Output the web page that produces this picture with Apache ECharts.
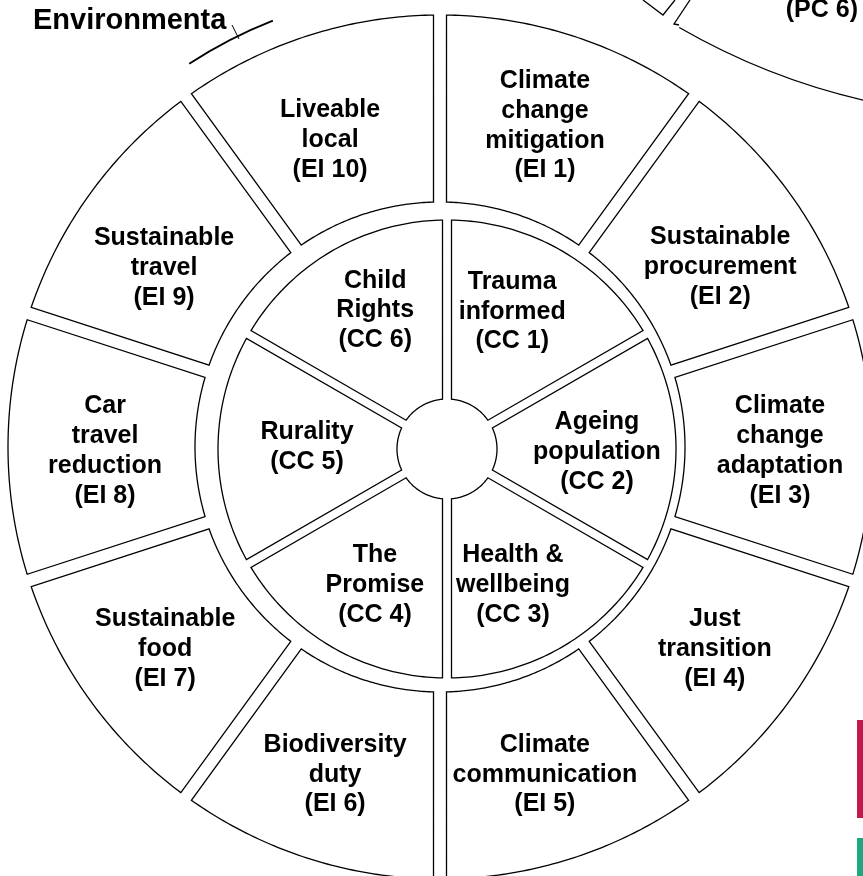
<!DOCTYPE html>
<html><head><meta charset="utf-8">
<script src="https://cdn.jsdelivr.net/npm/echarts@6/dist/echarts.min.js"></script>
<style>html,body{margin:0;padding:0;background:#fff}#chart{width:863px;height:876px}</style>
</head><body><div id="chart"></div>
<script>
// ---- data ----
const innerLabels = ['Trauma\ninformed\n(CC 1)', 'Ageing\npopulation\n(CC 2)', 'Health &\nwellbeing\n(CC 3)',
  'The\nPromise\n(CC 4)', 'Rurality\n(CC 5)', 'Child\nRights\n(CC 6)'];
const innerShares = [1, 1, 1, 1, 1, 1];
const outerLabels = ['Climate\nchange\nmitigation\n(EI 1)', 'Sustainable\nprocurement\n(EI 2)',
  'Climate\nchange\nadaptation\n(EI 3)', 'Just\ntransition\n(EI 4)', 'Climate\ncommunication\n(EI 5)',
  'Biodiversity\nduty\n(EI 6)', 'Sustainable\nfood\n(EI 7)', 'Car\ntravel\nreduction\n(EI 8)',
  'Sustainable\ntravel\n(EI 9)', 'Liveable\nlocal\n(EI 10)'];
const outerShares = [1, 1, 1, 1, 1, 1, 1, 1, 1, 1];
const titleText = 'Environmenta';
const neighbourLabel = '(PC 6)';

// ---- styling / layout (label placement as [angle offset from sector middle, radius]) ----
const FONT = 'Liberation Sans, Arial, Helvetica, sans-serif';
const innerLabelPlace = [[-4.6, 152], [1.1, 150], [4.1, 151], [-2.1, 154], [0.8, 140], [2.6, 156]];
const outerLabelPlace = [[0.1, 338], [3.3, 333], [0.7, 340], [0.3, 341], [0.25, 344], [-0.25, 344],
  [-0.3, 341], [-0.7, 335], [-3.0, 329], [-1.7, 326]];
const rings = [
  { labels: innerLabels, shares: innerShares, place: innerLabelPlace, rIn: 50, rOut: 229, gap: 9 },
  { labels: outerLabels, shares: outerShares, place: outerLabelPlace, rIn: 245, rOut: 432, gap: 13 }
];

function makeRenderer(ring) {
  const total = ring.shares.reduce((a, b) => a + b, 0);
  return function (params, api) {
    const i = params.dataIndex;
    let before = 0;
    for (let k = 0; k < i; k++) before += ring.shares[k];
    const a0 = before / total * 360;
    const a1 = (before + ring.shares[i]) / total * 360;
    const dOut = Math.asin(ring.gap / 2 / ring.rOut) * 180 / Math.PI;
    const dIn = Math.asin(ring.gap / 2 / ring.rIn) * 180 / Math.PI;
    const pts = [];
    const N = 60;
    for (let k = 0; k <= N; k++) {
      const a = (a0 + dOut) + ((a1 - dOut) - (a0 + dOut)) * k / N;
      pts.push(api.coord([ring.rOut, a]));
    }
    for (let k = 0; k <= N; k++) {
      const a = (a1 - dIn) - ((a1 - dIn) - (a0 + dIn)) * k / N;
      pts.push(api.coord([ring.rIn, a]));
    }
    const mid = (a0 + a1) / 2;
    const pl = ring.place[i];
    const c = api.coord([pl[1], mid + pl[0]]);
    return {
      type: 'group',
      children: [
        { type: 'polygon', shape: { points: pts },
          style: { fill: '#fff', stroke: '#000', lineWidth: 1.3 } },
        { type: 'text', x: c[0], y: c[1],
          style: { text: ring.labels[i], fill: '#000', fontSize: 25, fontWeight: 'bold', fontFamily: FONT,
            align: 'center', verticalAlign: 'middle', textAlign: 'center', textVerticalAlign: 'middle',
            lineHeight: 29.8 } }
      ]
    };
  };
}

const hidden = { show: false };
const option = {
  animation: false,
  backgroundColor: '#fff',
  polar: [
    { center: [447, 449], radius: 229 },
    { center: [440, 447], radius: 432 }
  ],
  angleAxis: [
    { polarIndex: 0, type: 'value', min: 0, max: 360, startAngle: 90, clockwise: true,
      axisLine: hidden, axisTick: hidden, axisLabel: hidden, splitLine: hidden },
    { polarIndex: 1, type: 'value', min: 0, max: 360, startAngle: 90, clockwise: true,
      axisLine: hidden, axisTick: hidden, axisLabel: hidden, splitLine: hidden }
  ],
  radiusAxis: [
    { polarIndex: 0, type: 'value', min: 0, max: 229,
      axisLine: hidden, axisTick: hidden, axisLabel: hidden, splitLine: hidden },
    { polarIndex: 1, type: 'value', min: 0, max: 432,
      axisLine: hidden, axisTick: hidden, axisLabel: hidden, splitLine: hidden }
  ],
  series: rings.map((ring, idx) => ({
    type: 'custom',
    coordinateSystem: 'polar',
    polarIndex: idx,
    silent: true,
    data: ring.shares.map((s, i) => ({ name: ring.labels[i], value: [s, i] })),
    renderItem: makeRenderer(ring)
  })),
  graphic: [
    { type: 'text', x: 33, y: 21, silent: true,
      style: { text: titleText, fill: '#000', fontSize: 29, fontWeight: 'bold', fontFamily: FONT,
        align: 'left', verticalAlign: 'middle', textAlign: 'left', textVerticalAlign: 'middle' } },
    { type: 'text', x: 858, y: 10, silent: true,
      style: { text: neighbourLabel, fill: '#000', fontSize: 25, fontWeight: 'bold', fontFamily: FONT,
        align: 'right', verticalAlign: 'middle', textAlign: 'right', textVerticalAlign: 'middle' } },
    { type: 'arc', silent: true,
      shape: { cx: 440, cy: 447, r: 458, startAngle: 236.8 * Math.PI / 180, endAngle: 248.6 * Math.PI / 180 },
      style: { fill: 'none', stroke: '#000', lineWidth: 1.8 } },
    { type: 'line', silent: true, shape: { x1: 232, y1: 25, x2: 239, y2: 39 },
      style: { stroke: '#000', lineWidth: 1 } },
    { type: 'polyline', silent: true, shape: { points: [[643, 0], [663, 15], [675, 0]] },
      style: { fill: 'none', stroke: '#000', lineWidth: 1.3 } },
    { type: 'polyline', silent: true, shape: { points: [[690, 0], [674, 24], [679, 25]] },
      style: { fill: 'none', stroke: '#000', lineWidth: 1.3 } },
    { type: 'arc', silent: true,
      shape: { cx: 1015, cy: -554, r: 671.5, startAngle: 100 * Math.PI / 180, endAngle: 120 * Math.PI / 180 },
      style: { fill: 'none', stroke: '#000', lineWidth: 1.3 } },
    { type: 'rect', silent: true, shape: { x: 857, y: 720, width: 6, height: 98 }, style: { fill: '#C21A4B' } },
    { type: 'rect', silent: true, shape: { x: 857, y: 838, width: 6, height: 40 }, style: { fill: '#1EA882' } }
  ]
};

const chart = echarts.init(document.getElementById('chart'), null, { renderer: 'canvas' });
chart.setOption(option);
</script>
</body></html>
